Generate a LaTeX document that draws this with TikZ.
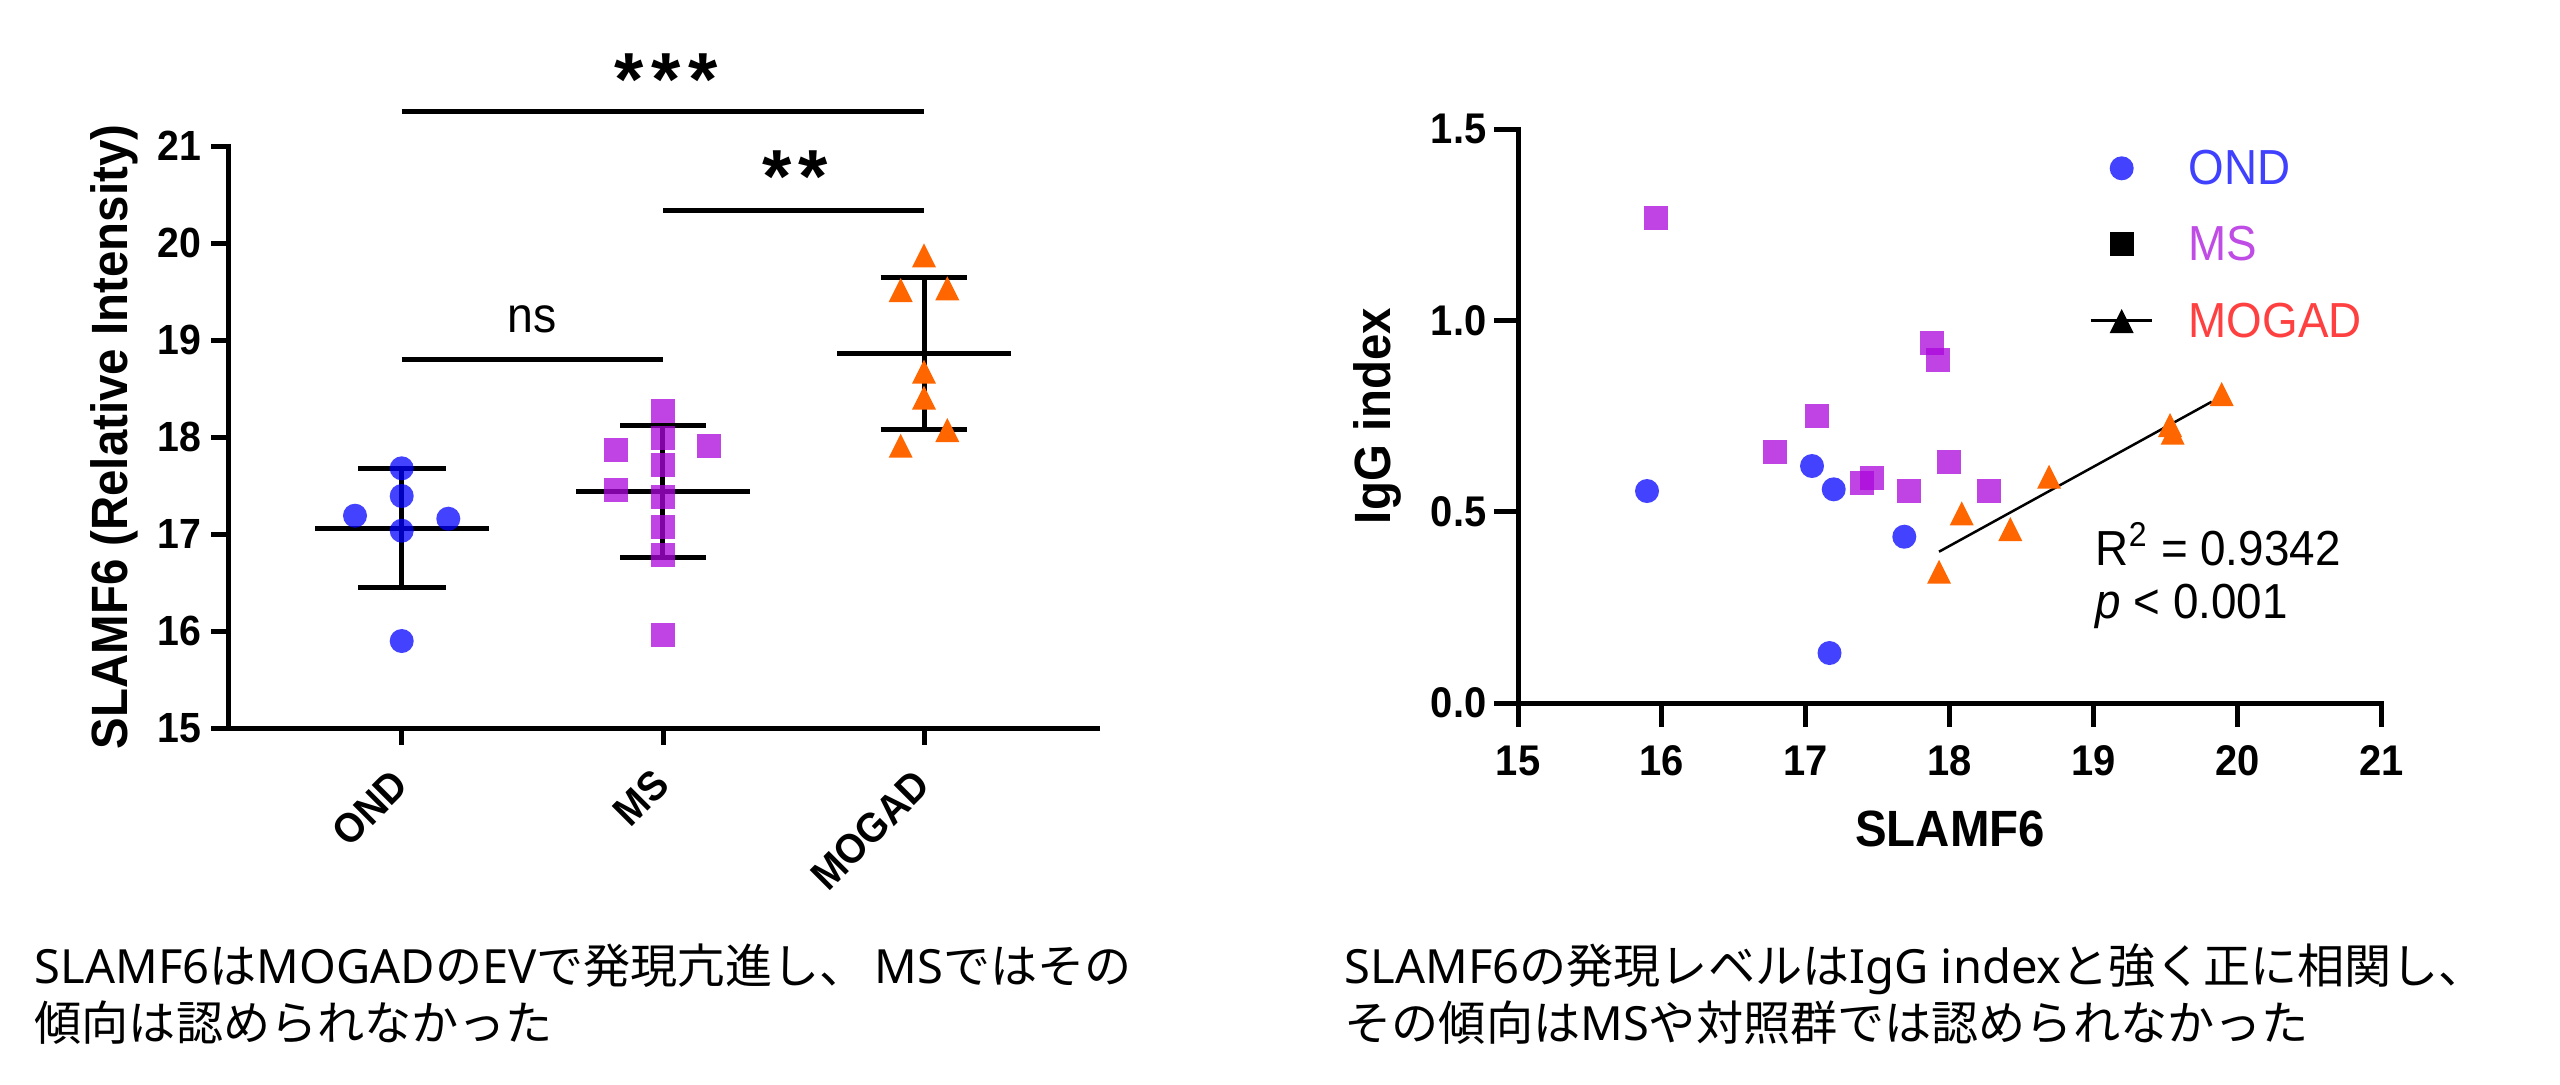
\documentclass[tikz,border=0pt]{standalone}
\usepackage{fontspec}
\setmainfont{Liberation Sans}[FakeStretch=0.93]
\newfontfamily\astfont{Liberation Sans}
\newfontfamily\jpfont{Noto Sans CJK JP}
\newfontfamily\latfont{Noto Sans}
\newcommand\capl[1]{{\latfont #1}}
\definecolor{ondc}{RGB}{0,0,255}
\definecolor{msc}{RGB}{171,6,219}
\definecolor{mogc}{RGB}{255,102,0}
\definecolor{ondtxt}{RGB}{64,64,255}
\definecolor{mstxt}{RGB}{192,76,230}
\definecolor{mogtxt}{RGB}{255,64,64}
\tikzset{
  axisline/.style={line width=0.05cm, line join=miter},
  barline/.style={line width=0.05cm},
  regline/.style={line width=0.025cm},
  ondfill/.style={fill=ondc, fill opacity=0.74},
  msfill/.style={fill=msc, fill opacity=0.75},
  mogfill/.style={fill=mogc},
  tickl/.style={inner sep=0, font=\bfseries\fontsize{12}{13}\selectfont},
  rtickl/.style={inner sep=0, font=\bfseries\fontsize{12.2}{13}\selectfont},
  catl/.style={inner sep=0, font=\bfseries\fontsize{11.8}{13}\selectfont},
  axlab/.style={inner sep=0, font=\bfseries\fontsize{14.5}{16}\selectfont},
  legl/.style={inner sep=0, anchor=base west, font=\fontsize{14}{15}\selectfont},
  astl/.style={inner sep=0, anchor=base, font=\astfont\bfseries\fontsize{21.4}{23}\selectfont},
  nsl/.style={inner sep=0, anchor=base, font=\fontsize{14.2}{15}\selectfont},
  captl/.style={inner sep=0, anchor=base west, font=\jpfont\fontsize{13.4}{16}\selectfont},
}
\newcommand\ondpt[1]{\fill[ondfill] (#1) circle[radius=0.12cm];}
\newcommand\mspt[1]{\fill[msfill] (#1) ++(-12,-12) rectangle ++(24,24);}
\newcommand\mogpt[1]{\fill[mogfill] (#1) ++(0,-12) -- ++(12,24) -- ++(-24,0) -- cycle;}
\newcommand\blkmog[1]{\fill[black] (#1) ++(0,-12) -- ++(12,24) -- ++(-24,0) -- cycle;}
\begin{document}
\begin{tikzpicture}[x=0.01cm,y=-0.01cm]
\useasboundingbox (0,0) rectangle (2560,1084);
\fill[white] (0,0) rectangle (2560,1084);

% ================= LEFT PLOT =================
\draw[axisline] (228,143.5) -- (228,728) -- (1100,728);
\foreach \v in {15,...,21}{
  \draw[axisline] (211,{728-97*(\v-15)}) -- (228,{728-97*(\v-15)});
  \node[tickl, anchor=east] (ly\v) at (202,{728-97*(\v-15)}) {\v};
}
\foreach \cx in {401.5,663,924}{ \draw[axisline] (\cx,728) -- (\cx,745); }
\node[catl, rotate=45, anchor=east] (cOND) at (401,777) {OND};
\node[catl, rotate=45, anchor=east] (cMS) at (662,777) {MS};
\node[catl, rotate=45, anchor=east] (cMOG) at (923,777) {MOGAD};
\node[axlab, rotate=90] (ylabL) at (114,437) {SLAMF6 (Relative Intensity)};

% significance bars
\draw[barline] (401.5,111.5) -- (924,111.5);
\draw[barline] (663,210.7) -- (924,210.7);
\draw[barline] (401.5,359.5) -- (663,359.5);
\node[astl] (sig3a) at (629,105) {*};
\node[astl] (sig3b) at (666,105) {*};
\node[astl] (sig3c) at (703,105) {*};
\node[astl] (sig2a) at (777,202) {*};
\node[astl] (sig2b) at (813,202) {*};
\node[nsl] (signs) at (532,332) {ns};

% error bars
\draw[barline] (401.5,468.3) -- (401.5,587.7);
\draw[barline] (358,468.3) -- (446,468.3);
\draw[barline] (358,587.7) -- (446,587.7);
\draw[barline] (315,528.3) -- (489,528.3);
\draw[barline] (662.7,425) -- (662.7,557.7);
\draw[barline] (620,425) -- (706,425);
\draw[barline] (620,557.7) -- (706,557.7);
\draw[barline] (576,491.7) -- (750,491.7);
\draw[barline] (924,277.3) -- (924,429.3);
\draw[barline] (880.7,277.3) -- (967.3,277.3);
\draw[barline] (880.7,429.3) -- (967.3,429.3);
\draw[barline] (837,353.3) -- (1011,353.3);

% points
\foreach \p in {{401.7,468.3},{401.7,496},{355,515.7},{401.7,530.7},{448.3,518.7},{401.7,641}}{\ondpt{\p}}
\foreach \p in {{662.7,411},{662.7,438.3},{616.3,450},{709.3,446},{662.7,465.3},{616.3,490},{662.7,496.7},{662.7,527.3},{662.7,555},{662.7,635.3}}{\mspt{\p}}
\foreach \p in {{924,255.3},{900.7,290},{947.3,288.3},{924,371.7},{924,397.7},{947.3,430},{900.7,445.7}}{\mogpt{\p}}

% ================= RIGHT PLOT =================
\draw[axisline] (1518,126.8) -- (1518,703) -- (2384,703);
\foreach \v/\t in {0/0.0,0.5/0.5,1/1.0,1.5/1.5}{
  \draw[axisline] (1494,{703-382.6*\v}) -- (1518,{703-382.6*\v});
  \node[rtickl, anchor=east] (ry\v) at (1487,{703-382.6*\v}) {\t};
}
\foreach \v in {15,...,21}{
  \draw[axisline] ({1518+143.9*(\v-15)},703) -- ({1518+143.9*(\v-15)},727);
  \node[rtickl, anchor=north] (rx\v) at ({1518+143.9*(\v-15)},745) {\v};
}
\node[axlab, anchor=base] (xlabR) at (1950,846) {SLAMF6};
\node[axlab, rotate=90] (ylabR) at (1377,416) {IgG index};

% regression line
\coordinate (rgA) at (1939,551.7);
\coordinate (rgB) at (2211.7,401.7);
\draw[regline] (rgA) -- (rgB);

\foreach \p in {{1656.3,218.3},{1817,416.3},{1775.3,452.3},{1861.7,482.7},{1871.7,478.3},{1908.7,490.7},{1932,343.3},{1937.7,360.3},{1949.3,462.3},{1989.3,490.7}}{\mspt{\p}}
\foreach \p in {{1647,491},{1812,466},{1833.7,489.3},{1904.3,536.7},{1829.5,653}}{\ondpt{\p}}
\foreach \p in {{1961.7,513.3},{2010.3,529},{2049,476.7},{1939,571.7},{2170,425},{2172.7,432.7},{2221.7,394}}{\mogpt{\p}}

% legend
\ondpt{2121.7,168.3}
\fill[black] (2109.7,232.3) rectangle (2133.7,256.3);
\coordinate (lgA) at (2090.7,320.7);
\coordinate (lgB) at (2152.3,320.7);
\draw[regline] (lgA) -- (lgB);
\blkmog{2121.7,321}
\node[legl, text=ondtxt] (legOND) at (2188,184) {OND};
\node[legl, text=mstxt] (legMS) at (2188,260.7) {MS};
\node[legl, text=mogtxt] (legMOG) at (2188,337) {MOGAD};
\node[legl] (rsq) at (2095,565) {R\textsuperscript{2} = 0.9342};
\node[legl] (pval) at (2095,618) {\textit{p} < 0.001};

% ================= CAPTIONS =================
\node[captl] (capL1) at (34,983) {\capl{SLAMF6}は\capl{MOGAD}の\capl{EV}で発現亢進し、\hspace{0.08cm}\capl{MS}ではその};
\node[captl] (capL2) at (34,1040) {傾向は認められなかった};
\node[captl] (capR1) at (1344,983) {\capl{SLAMF6}の発現レベルは\capl{IgG index}と強く正に相関し、};
\node[captl] (capR2) at (1344,1040) {その傾向は\capl{MS}や対照群では認められなかった};
\end{tikzpicture}
\end{document}
